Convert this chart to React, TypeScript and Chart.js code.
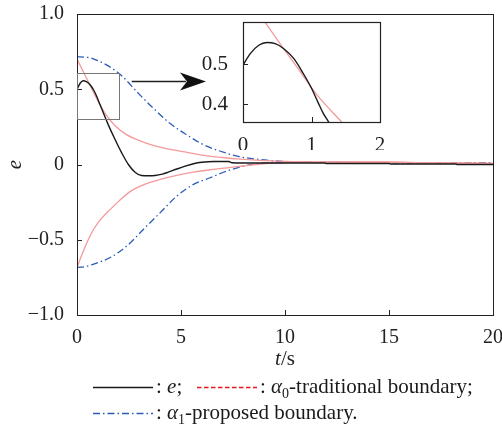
import React, { useEffect, useRef } from 'react';
import { Chart, registerables } from 'chart.js';
Chart.register(...registerables);

// ---- main chart data ----
const errorTime = [0, 0.15, 0.3, 0.45, 0.63, 0.8, 0.95, 1.1, 1.27, 1.5, 1.83, 2.15, 2.47, 2.79, 3.1, 3.45, 3.75, 4.1, 4.39, 4.8, 5.2, 5.6, 6.0, 6.6, 7.3, 7.45, 8.6, 11.9, 12.0, 15.0, 15.1, 18.2, 18.3, 20];
const errorValue = [0.5, 0.54, 0.556, 0.55, 0.53, 0.495, 0.452, 0.4, 0.342, 0.265, 0.166, 0.077, 0.0, -0.051, -0.073, -0.075, -0.073, -0.064, -0.051, -0.03, -0.011, 0.005, 0.015, 0.02, 0.02, 0.012, 0.01, 0.01, 0.007, 0.007, 0.003, 0.003, 0.0, 0.0];

const tradUpperTime = [0, 0.4, 0.9, 1.35, 1.8, 2.3, 3.0, 3.7, 4.5, 5.3, 6.0, 6.9, 7.7, 8.8, 10, 12, 14.8, 17, 20];
const tradUpperValue = [0.7, 0.59, 0.45, 0.34, 0.262, 0.205, 0.158, 0.125, 0.1, 0.08, 0.062, 0.048, 0.037, 0.027, 0.021, 0.018, 0.017, 0.01, 0.008];

const tradLowerTime = [0, 0.25, 0.54, 0.8, 1.2, 1.6, 2.0, 2.55, 3.2, 4.0, 4.8, 5.6, 6.4, 7.2, 8.0, 8.6, 9.5, 10.5, 12, 14.8, 17, 20];
const tradLowerValue = [-0.684, -0.595, -0.5, -0.43, -0.355, -0.298, -0.245, -0.18, -0.135, -0.099, -0.072, -0.051, -0.035, -0.022, -0.01, 0.0, 0.01, 0.014, 0.015, 0.015, 0.01, 0.008];

const propUpperTime = [0, 0.5, 1.0, 1.5, 2.15, 2.9, 3.7, 4.5, 5.3, 6.1, 6.9, 7.7, 8.8, 9.5, 10.5, 12, 15, 20];
const propUpperValue = [0.715, 0.712, 0.69, 0.655, 0.59, 0.48, 0.37, 0.27, 0.195, 0.13, 0.088, 0.055, 0.033, 0.024, 0.017, 0.014, 0.012, 0.01];

const propLowerTime = [0, 0.4, 0.8, 1.6, 2.4, 3.2, 4.0, 4.8, 5.6, 6.4, 7.2, 8.0, 8.6, 9.5, 10.5, 12, 15, 20];
const propLowerValue = [-0.684, -0.678, -0.662, -0.618, -0.541, -0.43, -0.32, -0.21, -0.132, -0.088, -0.044, -0.011, 0.005, 0.012, 0.014, 0.014, 0.012, 0.01];

const xTicks = [0, 5, 10, 15, 20];
const yTicks = [-1, -0.5, 0, 0.5, 1];
const yTickLabels = ['\u22121.0', '\u22120.5', '0', '0.5', '1.0'];

// ---- inset data ----
const insetErrorTime = [0, 0.106, 0.23, 0.35, 0.47, 0.59, 0.74, 0.88, 1.0, 1.1, 1.17, 1.25, 1.32];
const insetErrorValue = [0.498, 0.527, 0.548, 0.555, 0.552, 0.54, 0.515, 0.477, 0.44, 0.4025, 0.3775, 0.355, 0.335];
const insetTradTime = [0, 0.325, 0.59, 0.835, 1.08, 1.44, 1.6];
const insetTradValue = [0.68, 0.605, 0.54, 0.4815, 0.423, 0.355, 0.325];
const insetXTicks = [0, 1, 2];
const insetYTicks = [0.4, 0.5];
const insetYTickLabels = ['0.4', '0.5'];

// zoom window and arrow, in data coordinates of the main chart
const zoomWindow = { x0: 0, x1: 2, y0: 0.305, y1: 0.61 };
const arrowFrom = { x: 2.63, y: 0.552 };
const arrowTo = { x: 6.2, y: 0.552 };

const FONT = "'Liberation Serif'";
const BLACK = '#1a1a1a';
const PINK = '#f49a9a';
const RED = '#e8161c';
const BLUE = '#2a5cb8';
const DASHDOT = [7, 3, 1.5, 3];

const pts = (t: number[], v: number[]) => t.map((x, i) => ({ x, y: v[i] }));

type Run = { text: string; italic?: boolean; sub?: boolean };
function drawRuns(ctx: CanvasRenderingContext2D, runs: Run[], x: number, y: number, size: number) {
  let cx = x;
  ctx.textBaseline = 'alphabetic';
  ctx.textAlign = 'left';
  for (const r of runs) {
    const s = r.sub ? Math.round(size * 0.65) : size;
    ctx.font = `${r.italic ? 'italic ' : ''}${s}px ${FONT}`;
    ctx.fillText(r.text, cx, r.sub ? y + size * 0.22 : y);
    cx += ctx.measureText(r.text).width;
  }
  return cx;
}

const mainPlugin = {
  id: 'mainDecor',
  afterDraw(chart: any) {
    const { ctx, chartArea: a, scales } = chart;
    const xs = scales.x, ys = scales.y;
    ctx.save();
    ctx.strokeStyle = '#222';
    ctx.lineWidth = 1;
    ctx.setLineDash([]);
    ctx.strokeRect(Math.round(a.left) + 0.5, Math.round(a.top) + 0.5, Math.round(a.right - a.left), Math.round(a.bottom - a.top));
    ctx.beginPath();
    for (const v of xTicks) {
      const px = Math.round(xs.getPixelForValue(v)) + 0.5;
      ctx.moveTo(px, a.bottom);
      ctx.lineTo(px, a.bottom - 5);
    }
    for (const v of yTicks) {
      const py = Math.round(ys.getPixelForValue(v)) + 0.5;
      ctx.moveTo(a.left, py);
      ctx.lineTo(a.left + 5, py);
    }
    ctx.stroke();

    // zoom window
    const zx0 = xs.getPixelForValue(zoomWindow.x0), zx1 = xs.getPixelForValue(zoomWindow.x1);
    const zy0 = ys.getPixelForValue(zoomWindow.y0), zy1 = ys.getPixelForValue(zoomWindow.y1);
    ctx.strokeStyle = '#777';
    ctx.lineWidth = 1;
    ctx.strokeRect(Math.round(zx0) + 0.5, Math.round(zy1) + 0.5, Math.round(zx1 - zx0), Math.round(zy0 - zy1));

    // arrow
    const ax0 = xs.getPixelForValue(arrowFrom.x), ay = Math.round(ys.getPixelForValue(arrowFrom.y)) + 0.5;
    const ax1 = xs.getPixelForValue(arrowTo.x);
    ctx.strokeStyle = '#222';
    ctx.lineWidth = 1.3;
    ctx.beginPath();
    ctx.moveTo(ax0, ay);
    ctx.lineTo(ax1 - 20, ay);
    ctx.stroke();
    ctx.fillStyle = '#111';
    ctx.beginPath();
    ctx.moveTo(ax1, ay);
    ctx.lineTo(ax1 - 26, ay - 9);
    ctx.lineTo(ax1 - 19, ay);
    ctx.lineTo(ax1 - 26, ay + 9);
    ctx.closePath();
    ctx.fill();

    // axis titles
    ctx.fillStyle = '#222';
    ctx.font = `italic 21px ${FONT}`;
    const tw = ctx.measureText('t').width;
    ctx.font = `21px ${FONT}`;
    const sw = ctx.measureText('/s').width;
    const cx = (a.left + a.right) / 2;
    drawRuns(ctx, [{ text: 't', italic: true }, { text: '/s' }], cx - (tw + sw) / 2, 365, 21);

    ctx.save();
    ctx.translate(21, (a.top + a.bottom) / 2);
    ctx.rotate(-Math.PI / 2);
    ctx.font = `italic 21px ${FONT}`;
    ctx.textAlign = 'center';
    ctx.textBaseline = 'alphabetic';
    ctx.fillText('e', 0, 0);
    ctx.restore();

    // legend
    const row1 = 387, row2 = 413;
    ctx.lineWidth = 1.3;
    ctx.strokeStyle = BLACK;
    ctx.setLineDash([]);
    ctx.beginPath(); ctx.moveTo(93, row1 + 0.5); ctx.lineTo(153, row1 + 0.5); ctx.stroke();
    ctx.strokeStyle = RED;
    ctx.setLineDash([4.5, 2.5]);
    ctx.beginPath(); ctx.moveTo(197, row1 + 0.5); ctx.lineTo(257, row1 + 0.5); ctx.stroke();
    ctx.strokeStyle = BLUE;
    ctx.setLineDash(DASHDOT);
    ctx.beginPath(); ctx.moveTo(93, row2 + 0.5); ctx.lineTo(153, row2 + 0.5); ctx.stroke();
    ctx.setLineDash([]);
    ctx.fillStyle = '#1a1a1a';
    const base1 = row1 + 6, base2 = row2 + 6;
    drawRuns(ctx, [{ text: ': ' }, { text: 'e', italic: true }, { text: ';' }], 156, base1, 21);
    drawRuns(ctx, [{ text: ': ' }, { text: '\u03b1', italic: true }, { text: '0', sub: true }, { text: '-traditional boundary;' }], 260, base1, 21);
    drawRuns(ctx, [{ text: ': ' }, { text: '\u03b1', italic: true }, { text: '1', sub: true }, { text: '-proposed boundary.' }], 156, base2, 21);
    ctx.restore();
  },
};

const insetPlugin = {
  id: 'insetDecor',
  beforeDatasetsDraw(chart: any) {
    const { ctx, chartArea: a } = chart;
    ctx.save();
    ctx.fillStyle = '#fff';
    ctx.fillRect(a.left, a.top, a.right - a.left, a.bottom - a.top);
    ctx.restore();
  },
  afterDraw(chart: any) {
    const { ctx, chartArea: a, scales } = chart;
    ctx.save();
    ctx.strokeStyle = '#222';
    ctx.lineWidth = 1.2;
    ctx.strokeRect(Math.round(a.left) + 0.5, Math.round(a.top) + 0.5, Math.round(a.right - a.left), Math.round(a.bottom - a.top));
    ctx.lineWidth = 1;
    ctx.beginPath();
    for (const v of insetXTicks) {
      const px = Math.round(scales.x.getPixelForValue(v)) + 0.5;
      ctx.moveTo(px, a.bottom);
      ctx.lineTo(px, a.bottom - 5);
    }
    for (const v of insetYTicks) {
      const py = Math.round(scales.y.getPixelForValue(v)) + 0.5;
      ctx.moveTo(a.left, py);
      ctx.lineTo(a.left + 5, py);
    }
    ctx.stroke();
    ctx.restore();
  },
};

const lineDs = (label: string, data: any[], color: string, dash: number[] = [], width = 1.3) => ({
  label,
  data,
  borderColor: color,
  borderWidth: width,
  borderDash: dash,
  pointRadius: 0,
  fill: false,
  cubicInterpolationMode: 'monotone' as const,
});

const fitPad = (w?: number, h?: number) => (scale: any) => {
  if (w !== undefined) scale.width = w;
  if (h !== undefined) scale.height = h;
  scale.paddingLeft = 0;
  scale.paddingRight = 0;
  scale.paddingTop = 0;
  scale.paddingBottom = 0;
};

export default function App() {
  const mainRef = useRef<HTMLCanvasElement>(null);
  const insetRef = useRef<HTMLCanvasElement>(null);

  useEffect(() => {
    const tickFont = { family: FONT, size: 20 };
    const insetFont = { family: FONT, size: 21 };
    const main = new Chart(mainRef.current!, {
      type: 'line',
      data: {
        datasets: [
          lineDs('e', pts(errorTime, errorValue), BLACK, [], 1.4),
          lineDs('α0 upper', pts(tradUpperTime, tradUpperValue), PINK),
          lineDs('α0 lower', pts(tradLowerTime, tradLowerValue), PINK),
          lineDs('α1 upper', pts(propUpperTime, propUpperValue), BLUE, DASHDOT),
          lineDs('α1 lower', pts(propLowerTime, propLowerValue), BLUE, DASHDOT),
        ],
      },
      options: {
        animation: false,
        responsive: false,
        devicePixelRatio: 1,
        layout: { padding: { left: 0, right: 9, top: 14, bottom: 0 } },
        plugins: { legend: { display: false }, tooltip: { enabled: false } },
        scales: {
          x: {
            type: 'linear',
            min: 0,
            max: 20,
            afterBuildTicks: (s: any) => { s.ticks = xTicks.map((v) => ({ value: v })); },
            afterFit: fitPad(undefined, 115),
            grid: { display: false },
            border: { display: false },
            ticks: { font: tickFont, color: '#222', padding: 3, maxRotation: 0, autoSkip: false, callback: (v: any) => String(v) },
          },
          y: {
            type: 'linear',
            min: -1,
            max: 1,
            afterBuildTicks: (s: any) => { s.ticks = yTicks.map((v) => ({ value: v })); },
            afterFit: fitPad(77, undefined),
            grid: { display: false },
            border: { display: false },
            ticks: {
              font: tickFont, color: '#222', padding: 5, autoSkip: false,
              callback: (v: any) => yTickLabels[yTicks.indexOf(Number(v))] ?? String(v),
            },
          },
        },
      },
      plugins: [mainPlugin],
    });

    const inset = new Chart(insetRef.current!, {
      type: 'line',
      data: {
        datasets: [
          lineDs('e', pts(insetErrorTime, insetErrorValue), BLACK, [], 1.4),
          lineDs('α0 upper', pts(insetTradTime, insetTradValue), PINK),
        ],
      },
      options: {
        animation: false,
        responsive: false,
        devicePixelRatio: 1,
        layout: { padding: { left: 0, right: 10, top: 12, bottom: 0 } },
        plugins: { legend: { display: false }, tooltip: { enabled: false } },
        scales: {
          x: {
            type: 'linear',
            min: 0,
            max: 2,
            afterBuildTicks: (s: any) => { s.ticks = insetXTicks.map((v) => ({ value: v })); },
            afterFit: fitPad(undefined, 28),
            grid: { display: false },
            border: { display: false },
            ticks: { font: insetFont, color: '#222', padding: 3, maxRotation: 0, autoSkip: false, callback: (v: any) => String(v) },
          },
          y: {
            type: 'linear',
            min: 0.355,
            max: 0.6065,
            afterBuildTicks: (s: any) => { s.ticks = insetYTicks.map((v) => ({ value: v })); },
            afterFit: fitPad(53, undefined),
            grid: { display: false },
            border: { display: false },
            ticks: {
              font: insetFont, color: '#222', padding: 7, autoSkip: false,
              callback: (v: any) => insetYTickLabels[insetYTicks.indexOf(Number(v))] ?? String(v),
            },
          },
        },
      },
      plugins: [insetPlugin],
    });

    return () => {
      main.destroy();
      inset.destroy();
    };
  }, []);

  return (
    <div style={{ position: 'absolute', left: 0, top: 0, width: 502, height: 430, background: '#fff' }}>
      <canvas ref={mainRef} width={502} height={430} style={{ position: 'absolute', left: 0, top: 0, width: 502, height: 430 }} />
      <canvas ref={insetRef} width={200} height={140} style={{ position: 'absolute', left: 190, top: 10, width: 200, height: 140 }} />
    </div>
  );
}
